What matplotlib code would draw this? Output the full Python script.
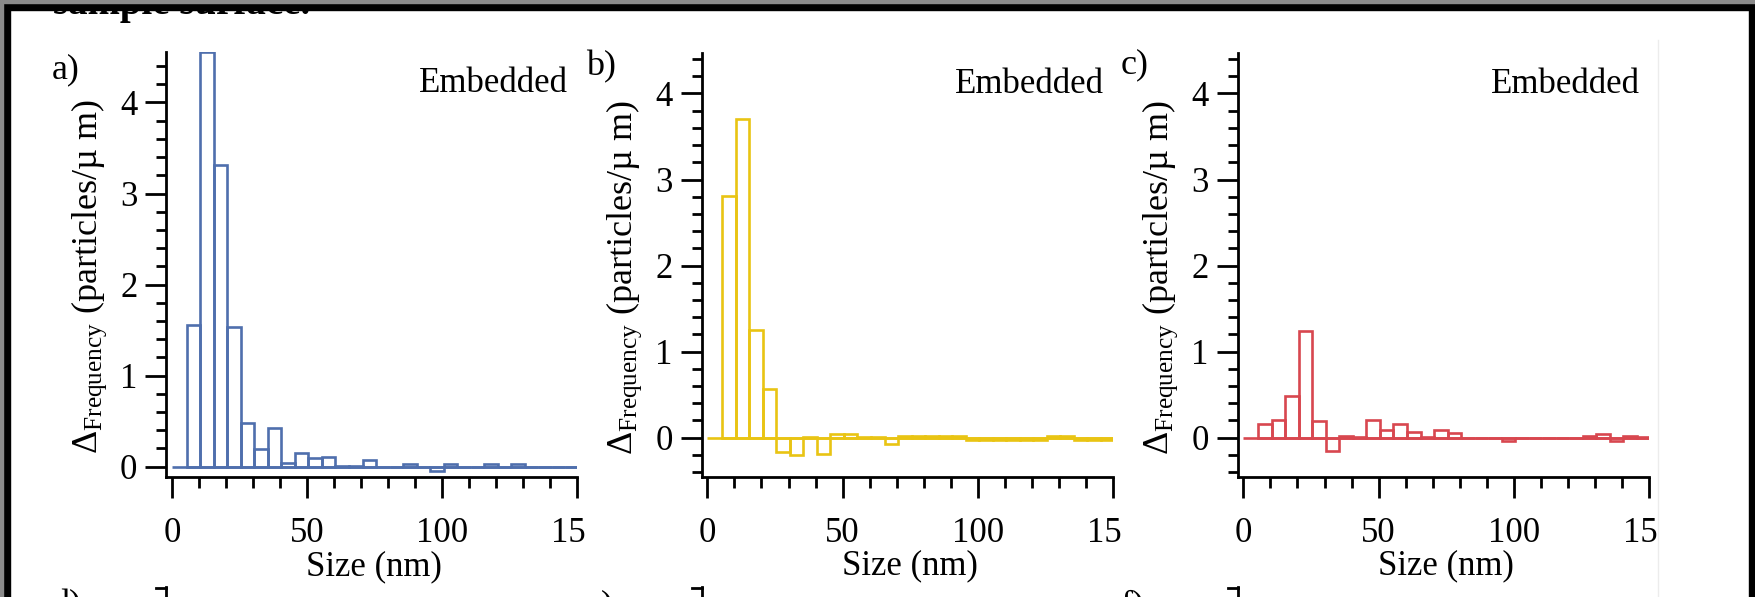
import numpy as np
import matplotlib
matplotlib.use("Agg")
import matplotlib.pyplot as plt
from matplotlib.ticker import MultipleLocator
from matplotlib.patches import Rectangle
from matplotlib.lines import Line2D

plt.rcParams['font.family'] = ['Liberation Serif', 'DejaVu Serif']
plt.rcParams['mathtext.fontset'] = 'custom'
plt.rcParams['mathtext.rm'] = 'Liberation Serif'
plt.rcParams['mathtext.it'] = 'Liberation Serif:italic'

W, H = 1756, 597

# 5 nm size bins (left edges)
bin_left = np.arange(5.5, 150, 5)
bin_width = 5

freq_a = [1.56, 4.55, 3.31, 1.53, 0.48, 0.19, 0.42, 0.04, 0.15, 0.09,
          0.11, 0.01, 0.01, 0.07, 0.0, 0.0, 0.03, 0.0, -0.05, 0.03,
          0.0, 0.0, 0.03, 0.0, 0.03, 0.0, 0.0, 0.0, 0.0]
freq_b = [2.81, 3.70, 1.25, 0.57, -0.17, -0.20, 0.01, -0.19, 0.04, 0.04,
          0.01, 0.01, -0.07, 0.02, 0.02, 0.02, 0.02, 0.02, -0.03, -0.03,
          -0.03, -0.03, -0.03, -0.03, 0.02, 0.02, -0.03, -0.03, -0.03]
freq_c = [0.155, 0.205, 0.49, 1.24, 0.19, -0.155, 0.02, 0.01, 0.21, 0.085,
          0.165, 0.065, 0.01, 0.085, 0.06, 0.0, 0.0, 0.0, -0.04, 0.0,
          0.0, 0.0, 0.0, 0.0, 0.02, 0.04, -0.04, 0.02, 0.01]

panel_labels = ['a)', 'b)', 'c)']
next_row_labels = ['d)', 'e)', 'f)']
colors = ['#4f6fad', '#e9c413', '#d8474f']
ylims = [(-0.11, 4.56), (-0.453, 4.47), (-0.453, 4.47)]
x_ticks = [0, 50, 100, 150]
x_tick_labels = ['0', '50', '100', '']   # "150" is cut to "15" in the source, drawn below

# layout in pixels of the source picture
ax_left = [166.5, 702, 1238]
ax_top = [51.5, 53, 53]
ax_bottom = 476.7
ax_width = 411
label_pos = [(52, 78), (586, 75), (1121, 73)]


def fx(x):
    return x / W


def fy(y):
    return 1 - y / H


def draw_panel(ax, freq, color, ylim):
    ax.bar(bin_left, freq, width=bin_width, align='edge', fill=False,
           edgecolor=color, linewidth=1.9)
    ax.hlines(0, 0, 150, color=color, linewidth=1.9)

    ax.set_xlim(-2, 150)
    ax.set_ylim(*ylim)
    for side in ['top', 'right']:
        ax.spines[side].set_visible(False)
    for side in ['left', 'bottom']:
        ax.spines[side].set_linewidth(2)

    ax.set_xticks(x_ticks, x_tick_labels)
    ax.xaxis.set_minor_locator(MultipleLocator(10))
    ax.yaxis.set_major_locator(MultipleLocator(1))
    ax.yaxis.set_minor_locator(MultipleLocator(0.2))
    ax.tick_params(axis='both', which='both', direction='out', width=2)
    ax.tick_params(axis='x', which='major', length=15, pad=14, labelsize=25)
    ax.tick_params(axis='x', which='minor', length=8)
    ax.tick_params(axis='y', which='major', length=15, pad=6, labelsize=25)
    ax.tick_params(axis='y', which='minor', length=7)

    ax.annotate('15', xy=(150, 0), xycoords=('data', 'axes fraction'),
                xytext=(-6.5, -29), textcoords='offset points',
                ha='center', va='top', fontsize=25)

    ax.set_xlabel('Size (nm)', fontsize=25)
    ax.xaxis.set_label_coords(0.505, -0.172)
    ax.set_ylabel('Δ$_{\\mathrm{Frequency}}$ (particles/µ m)', fontsize=26)
    ax.yaxis.set_label_coords(-0.14, 0.47)

    ax.text(0.977, 0.905, 'Embedded', transform=ax.transAxes,
            ha='right', va='baseline', fontsize=25)


fig = plt.figure(figsize=(W / 100, H / 100), dpi=100)

for i, freq in enumerate([freq_a, freq_b, freq_c]):
    rect = [fx(ax_left[i]), fy(ax_bottom), fx(ax_width),
            (ax_bottom - ax_top[i]) / H]
    ax = fig.add_axes(rect)
    draw_panel(ax, freq, colors[i], ylims[i])
    lx, ly = label_pos[i]
    fig.text(fx(lx), fy(ly), panel_labels[i], fontsize=26,
             ha='left', va='baseline')
    # top of the next row, cut off by the crop
    fig.text(fx(lx), fy(614), next_row_labels[i], fontsize=26,
             ha='left', va='baseline')
    fig.add_artist(Line2D([fx(ax_left[i])] * 2, [fy(587), 0],
                          color='black', linewidth=2))
    fig.add_artist(Line2D([fx(ax_left[i] - 10), fx(ax_left[i])],
                          [fy(588), fy(588)], color='black', linewidth=2))

# caption text from the page above, mostly hidden
fig.text(fx(53), fy(14), 'sample surface.', fontsize=28, fontweight='bold',
         ha='left', va='baseline')

# faint crop line on the right
fig.add_artist(Line2D([fx(1658)] * 2, [fy(40), 0], color='#ececec',
                      linewidth=1))

# screenshot frame
fig.add_artist(Rectangle((0, fy(10)), 1, 10 / H, transform=fig.transFigure,
                         color='black', zorder=10))
fig.add_artist(Rectangle((0, fy(3)), 1, 3 / H, transform=fig.transFigure,
                         color='#8a8a8a', zorder=11))
fig.add_artist(Rectangle((0, 0), fx(10), 1, transform=fig.transFigure,
                         color='black', zorder=10))
fig.add_artist(Rectangle((0, 0), fx(3), 1, transform=fig.transFigure,
                         color='#8a8a8a', zorder=11))
fig.add_artist(Rectangle((fx(1749), 0), fx(7), 1, transform=fig.transFigure,
                         color='black', zorder=10))

fig.savefig('out.png', dpi=100)
